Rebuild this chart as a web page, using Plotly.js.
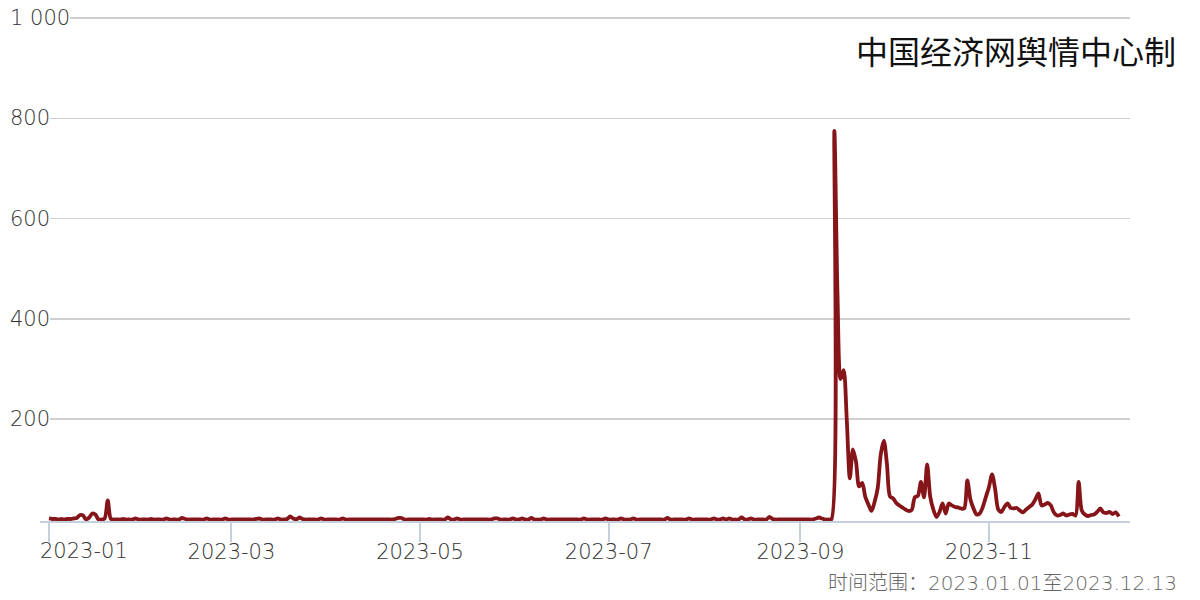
<!DOCTYPE html>
<html>
<head>
<meta charset="utf-8">
<script src="https://cdn.plot.ly/plotly-3.0.1.min.js"></script>
<style>html,body{margin:0;padding:0;background:#fff}#chart{width:1200px;height:600px}</style>
</head>
<body>
<div id="chart"></div>
<script>
// Daily values, 2023-01-01 .. 2023-12-13
const startDate = '2023-01-01';
const jan = [2,1,1,0,1,0,1,1,2,3, 9,8,0,4,12,10,0,0,2,38, 1,0,0,0,1,0,0,0,2,0, 0];
const feb = [0,0,1,0,0,0,0,2,0,0, 0,0,3,1,0,0,0,0,0,0, 2,0,0,0,0,0,2,0];
const mar = [0,0,0,0,0,0,0,0,1,2, 0,0,0,0,0,2,0,0,1,6, 2,0,4,1,0,0,0,0,0,2, 0];
const apr = [0,0,0,0,0,2,0,0,0,0, 0,0,0,0,0,0,0,0,0,0, 0,0,1,3,3,0,0,0,0,0];
const may = [0,0,0,1,0,0,0,0,0,4, 0,0,2,0,0,0,0,0,0,0, 0,0,0,0,2,2,0,0,0,0, 2];
const jun = [0,0,2,0,0,3,0,0,0,2, 0,0,0,0,0,0,0,0,0,0, 0,0,2,0,0,0,0,0,0,2];
const jul = [0,0,0,0,2,0,0,0,2,0, 0,0,0,0,0,0,0,0,0,3, 0,0,0,0,0,0,2,0,0,0, 0];
const aug = [0,0,0,2,0,0,2,0,2,0, 0,0,4,0,0,2,0,0,0,0, 0,5,1,0,0,0,0,0,0,0, 0];
const sep = [0,0,0,0,0,2,4,2,0,0, 0,775,450,280,298,200,82,140,115,66, 73,45,30,17,35,62,130,157,110,46];
const oct = [42,33,28,24,20,17,19,44,47,75, 44,110,45,20,5,15,32,12,32,28, 25,24,22,22,78,40,22,10,12,25, 45];
const nov = [65,90,60,20,15,25,32,23,22,23, 18,14,20,25,30,40,52,28,30,33, 28,14,8,9,12,8,10,11,8,75];
const dec = [18,10,7,9,10,15,22,14,13,15, 11,14,6];

const xTickVals = ['2023-01-01','2023-03-01','2023-05-01','2023-07-01','2023-09-01','2023-11-01'];
const xTickText = ['2023-01','2023-03','2023-05','2023-07','2023-09','2023-11'];
const yTickVals = [200,400,600,800,1000];
const yTickText = ['200','400','600','800','1 000'];
const sourceText = '中国经济网舆情中心制';
const rangeText = '时间范围：2023.01.01至2023.12.13';

const values = [].concat(jan,feb,mar,apr,may,jun,jul,aug,sep,oct,nov,dec);
const base = Date.parse(startDate + 'T00:00:00Z');
const dates = values.map((v,i)=> new Date(base + i*86400000).toISOString().slice(0,10));

const trace = {
  x: dates, y: values, type: 'scatter', mode: 'lines',
  line: {color: '#861519', width: 3.8, shape: 'spline', smoothing: 0.8},
  hoverinfo: 'skip', showlegend: false
};

const labelFont = {family: 'DejaVu Sans', size: 21, color: '#333', weight: 200};

// y labels sit left-aligned over the grid lines, on a white ground
const yLabelAnnotations = yTickVals.map((v,i)=>({
  text: yTickText[i], xref: 'paper', yref: 'y', x: -30/1090, y: v,
  xanchor: 'left', yanchor: 'middle', showarrow: false,
  bgcolor: '#ffffff', borderpad: 0, borderwidth: 0,
  font: labelFont
}));

// the first date label starts at the plot's left edge instead of being centred on its tick
const firstXLabel = {
  text: xTickText[0], xref: 'x', yref: 'paper', x: xTickVals[0], y: -30/508,
  xanchor: 'left', yanchor: 'middle', xshift: -9, showarrow: false,
  borderpad: 0, borderwidth: 0, font: labelFont
};

const layout = {
  width: 1200, height: 600,
  margin: {l: 40, r: 70, t: 13, b: 79, pad: 0},
  paper_bgcolor: '#fff', plot_bgcolor: '#fff',
  font: {family: 'DejaVu Sans, Noto Sans CJK SC', size: 20, color: '#555'},
  xaxis: {
    type: 'date',
    range: ['2022-12-29 02:10', '2023-12-16 14:30'],
    tickvals: xTickVals, ticktext: xTickText.map((t,i)=> i===0 ? '' : t),
    ticklabelstandoff: -8,
    showgrid: false, zeroline: false,
    showline: true, linecolor: '#c4d0de', linewidth: 2,
    ticks: 'outside', ticklen: 19, tickwidth: 2, tickcolor: '#c4d0de',
    tickfont: labelFont,
    fixedrange: true
  },
  yaxis: {
    range: [-3, 1010],
    tickvals: yTickVals, ticktext: yTickText,
    showticklabels: false,
    showgrid: true, gridcolor: '#cfcfcf', gridwidth: 1.5,
    zeroline: false, showline: false, ticks: '',
    fixedrange: true
  },
  annotations: yLabelAnnotations.concat([
    firstXLabel,
    {text: sourceText, xref: 'paper', yref: 'paper', x: (1178-40)/1090, y: (521-50)/508,
     xanchor: 'right', yanchor: 'middle', showarrow: false,
     font: {family: 'Noto Sans CJK SC', size: 32, color: '#111'}},
    {text: rangeText, xref: 'paper', yref: 'paper', x: (1179-40)/1090, y: (521-583)/508,
     xanchor: 'right', yanchor: 'middle', showarrow: false,
     font: {family: 'DejaVu Sans, Noto Sans CJK SC', size: 20, color: '#666', weight: 200}}
  ])
};

Plotly.newPlot('chart', [trace], layout, {staticPlot: true, displayModeBar: false});
</script>
</body>
</html>
